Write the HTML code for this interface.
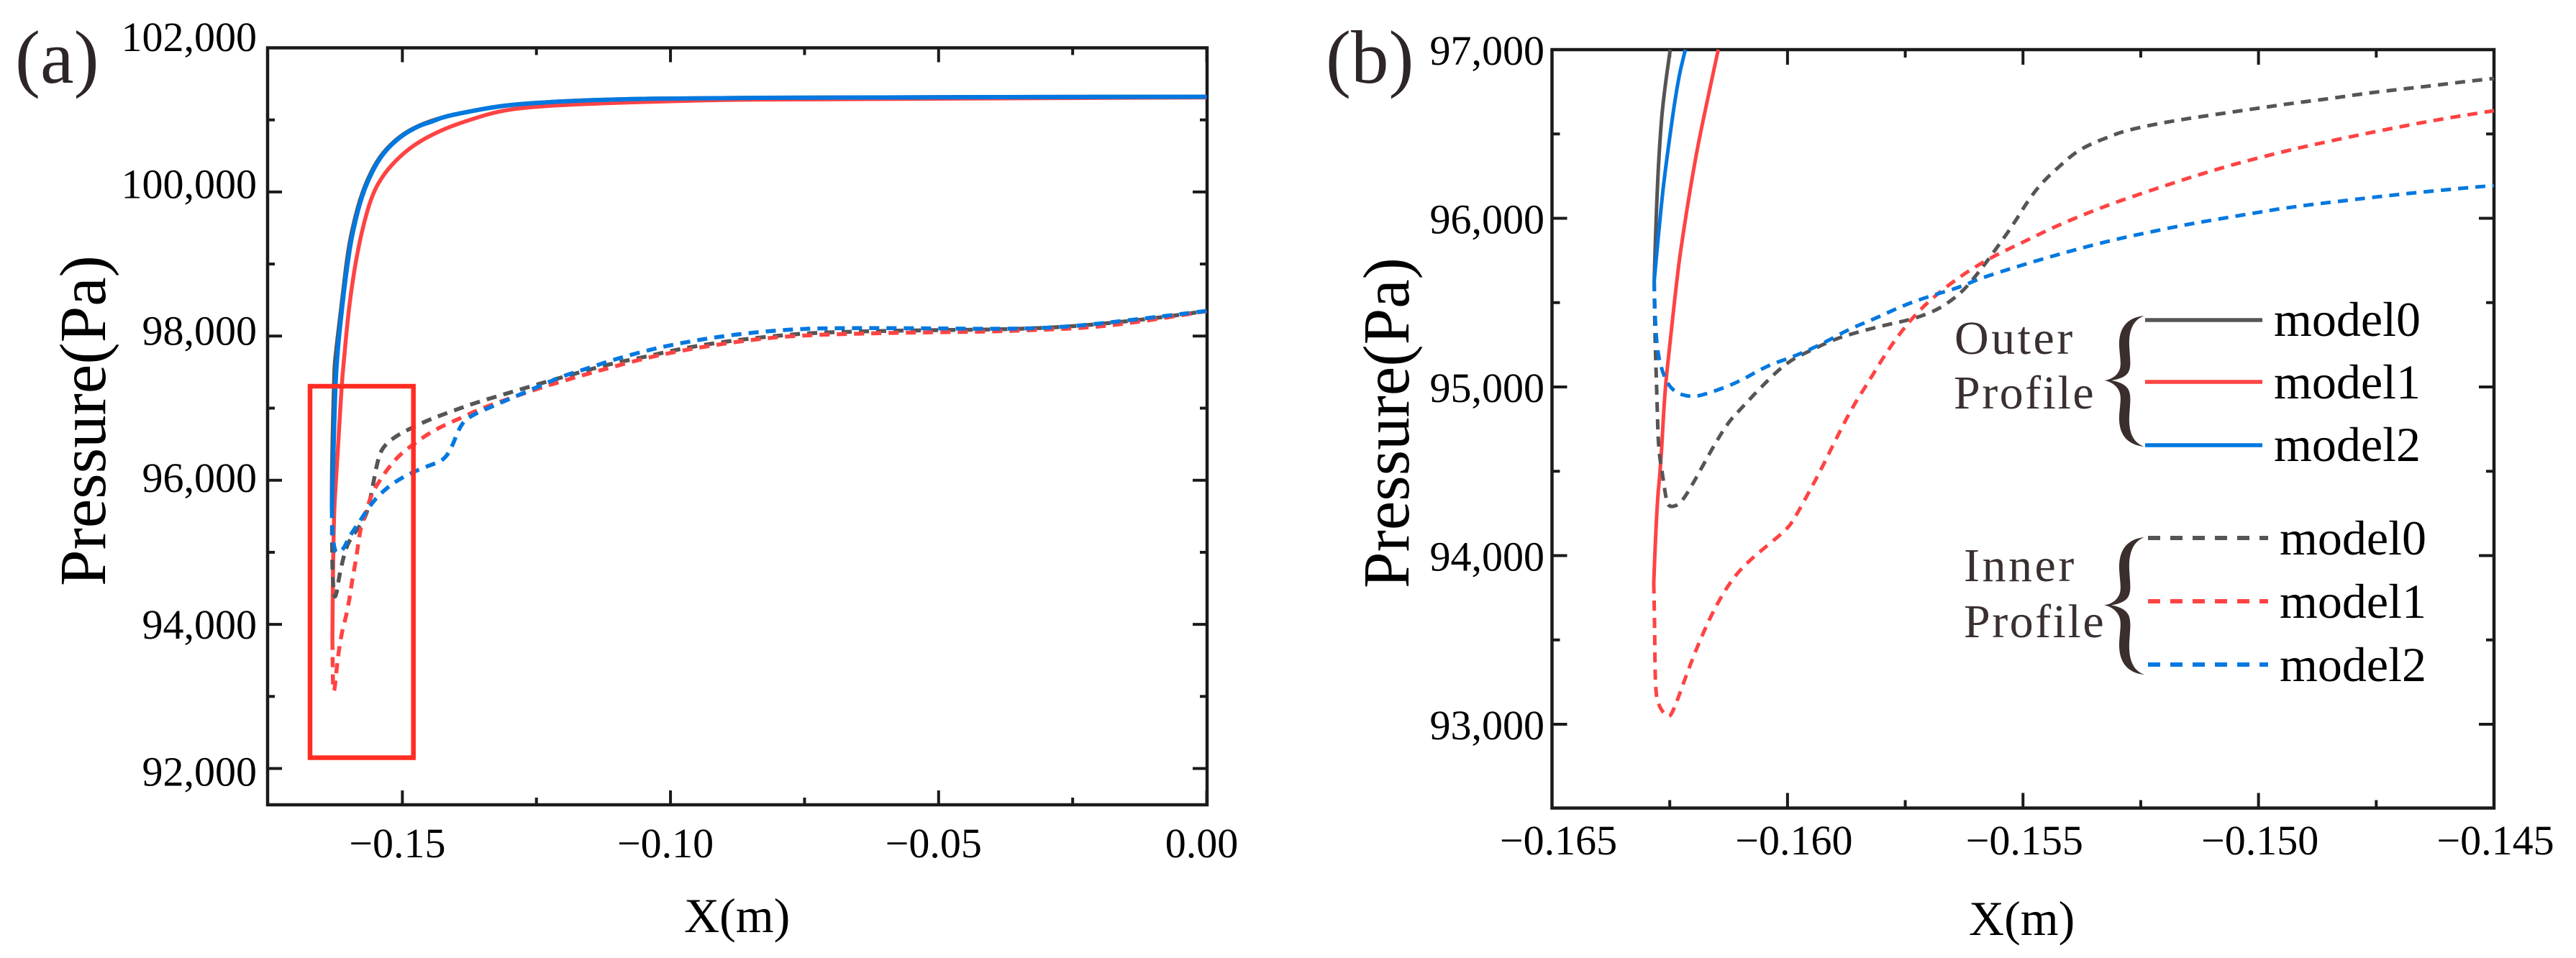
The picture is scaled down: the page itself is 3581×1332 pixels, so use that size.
<!DOCTYPE html>
<html lang="en">
<head>
<meta charset="utf-8">
<title>Pressure profiles</title>
<style>
html,body{margin:0;padding:0;background:#fff;}
#figure{display:block;width:3581px;height:1332px;font-family:"Liberation Serif",serif;}
text{font-family:"Liberation Serif",serif;}
</style>
</head>
<body>
<svg id="figure" xmlns="http://www.w3.org/2000/svg" width="3581" height="1332" viewBox="0 0 3581 1332">
  <rect x="0" y="0" width="3581" height="1332" fill="#fff"/>
  <g id="panelA"></g>
  <g id="panelB"></g>

  <text x="21" y="115" font-size="105" fill="#2e2626">(a)</text>
  <text x="1843" y="115" font-size="105" fill="#2e2626">(b)</text>

  <text transform="translate(146,815) rotate(-90)" font-size="91" fill="#000">Pressure(Pa)</text>
  <text transform="translate(1958,818) rotate(-90)" font-size="91" fill="#000">Pressure(Pa)</text>
  <text x="951" y="1296" font-size="68" fill="#000">X(m)</text>
  <text x="2737" y="1300" font-size="68" fill="#000">X(m)</text>

  <rect x="431" y="537" width="143.7" height="516.5" fill="none" stroke="#ff2d23" stroke-width="6.5"/>

  <g>
    <text x="2717" y="492" font-size="66" letter-spacing="3.5" fill="#3a3030">Outer</text>
    <text x="2716" y="568" font-size="66" letter-spacing="2.5" fill="#3a3030">Profile</text>
    <text x="2730" y="808" font-size="66" letter-spacing="3.5" fill="#3a3030">Inner</text>
    <text x="2730" y="886" font-size="66" letter-spacing="2.5" fill="#3a3030">Profile</text>

    <path transform="translate(2925,439)" fill="#3a2f2c" d="M56,0 C34,2 20,15 21,42 C22,60 25,70 20,78 C16,85 8,89 0,90 C8,91 16,96 20,103 C25,112 22,122 21,140 C20,167 34,180 56,182 C42,177 34,165 35,140 C36,122 38,112 34,103 C31,97 23,92 10,90 C23,88 31,84 34,78 C38,70 36,60 35,42 C34,18 42,5 56,0 Z"/>
    <path transform="translate(2925,747) scale(1,1.05)" fill="#3a2f2c" d="M56,0 C34,2 20,15 21,42 C22,60 25,70 20,78 C16,85 8,89 0,90 C8,91 16,96 20,103 C25,112 22,122 21,140 C20,167 34,180 56,182 C42,177 34,165 35,140 C36,122 38,112 34,103 C31,97 23,92 10,90 C23,88 31,84 34,78 C38,70 36,60 35,42 C34,18 42,5 56,0 Z"/>

    <line x1="2982" x2="3145" y1="445" y2="445" stroke="#555555" stroke-width="5.5"/>
    <line x1="2982" x2="3145" y1="531" y2="531" stroke="#ff4343" stroke-width="5.5"/>
    <line x1="2982" x2="3145" y1="619" y2="619" stroke="#0078e0" stroke-width="5.5"/>
    <text x="3161" y="467" font-size="68" fill="#000">model0</text>
    <text x="3161" y="554" font-size="68" fill="#000">model1</text>
    <text x="3161" y="641" font-size="68" fill="#000">model2</text>

    <line x1="2986" x2="3153" y1="748" y2="748" stroke="#555555" stroke-width="6" stroke-dasharray="17 14"/>
    <line x1="2986" x2="3153" y1="836" y2="836" stroke="#ff4343" stroke-width="6" stroke-dasharray="17 14"/>
    <line x1="2986" x2="3153" y1="924" y2="924" stroke="#0078e0" stroke-width="6" stroke-dasharray="17 14"/>
    <text x="3169" y="771" font-size="68" fill="#000">model0</text>
    <text x="3169" y="859" font-size="68" fill="#000">model1</text>
    <text x="3169" y="947" font-size="68" fill="#000">model2</text>
  </g>
</svg>

<script>
/* ---------- tick values and labels ---------- */
var aXMajorTicks = [-0.15, -0.10, -0.05, 0.00];
var aXMinorTicks = [-0.125, -0.075, -0.025];
var aXTickLabels = ["\u22120.15", "\u22120.10", "\u22120.05", "0.00"];
var aYMajorTicks = [102000, 100000, 98000, 96000, 94000, 92000];
var aYMinorTicks = [101000, 99000, 97000, 95000, 93000];
var aYTickLabels = ["102,000", "100,000", "98,000", "96,000", "94,000", "92,000"];

var bXMajorTicks = [-0.165, -0.160, -0.155, -0.150, -0.145];
var bXMinorTicks = [-0.1625, -0.1575, -0.1525, -0.1475];
var bXTickLabels = ["\u22120.165", "\u22120.160", "\u22120.155", "\u22120.150", "\u22120.145"];
var bYMajorTicks = [97000, 96000, 95000, 94000, 93000];
var bYMinorTicks = [96500, 95500, 94500, 93500];
var bYTickLabels = ["97,000", "96,000", "95,000", "94,000", "93,000"];

/* ---------- panel (a) series: X in m, pressure in Pa ---------- */
var aOuter0X = [-0.16313,-0.16313,-0.16268,-0.1625,-0.1610,-0.1603,-0.1595,-0.1579,-0.1559,-0.1537,-0.1505,-0.1470,-0.14232,-0.13785,-0.13114,-0.12215,-0.10872,-0.08859,-0.07745,0];
var aOuter0P = [95616,96152,97489,97700,98627,99076,99425,99904,100273,100543,100772,100922,101042,101112,101202,101251,101291,101301,101311,101321];
var aOuter1X = [-0.16305,-0.16291,-0.16223,-0.16134,-0.1609,-0.16,-0.15889,-0.15758,-0.15575,-0.15356,-0.15038,-0.14685,-0.14232,-0.13785,-0.13114,-0.12215,-0.10872,-0.08859,-0.07745,-0.03718,0];
var aOuter1P = [93786,95387,96152,97299,97679,98377,98956,99455,99944,100244,100503,100703,100872,100992,101142,101202,101242,101281,101281,101301,101311];
var aOuter2X = [-0.16313,-0.16268,-0.16228,-0.1609,-0.1601,-0.15933,-0.15776,-0.15575,-0.15356,-0.15038,-0.14685,-0.14456,-0.14232,-0.13785,-0.13114,-0.12215,-0.10872,-0.08859,-0.07745,0];
var aOuter2P = [95616,96915,97679,98627,99076,99425,99904,100273,100543,100772,100922,100972,101042,101112,101202,101251,101291,101301,101311,101321];

var aInner0X = [-0.16313,-0.16313,-0.16299,-0.16268,-0.16224,-0.16179,-0.16111,-0.16023,-0.15866,-0.15664,-0.1553,-0.15463,-0.15373,-0.15128,-0.14836,-0.14501,-0.14232,-0.13919,-0.13611,-0.1298,-0.12349,-0.11732,-0.11101,-0.1047,-0.09852,-0.09221,-0.08577,-0.0792,-0.07302,-0.05732,-0.03047,-0.01262,0];
var aInner0P = [95616,95084,94625,94355,94435,94665,94894,95124,95293,95503,96002,96265,96456,96611,96724,96840,96915,97000,97080,97220,97359,97489,97619,97712,97818,97898,97961,98011,98048,98078,98098,98218,98347];
var aInner1X = [-0.16305,-0.16299,-0.16291,-0.16268,-0.16224,-0.16179,-0.16121,-0.16044,-0.15977,-0.15933,-0.15875,-0.15821,-0.15776,-0.15687,-0.15575,-0.15419,-0.15239,-0.15038,-0.14769,-0.14501,-0.14232,-0.13919,-0.13607,-0.13024,-0.12403,-0.11772,-0.11141,-0.10497,-0.09866,-0.09248,-0.08591,-0.07973,-0.07315,-0.05732,-0.0408,-0.03047,-0.02148,-0.01262,-0.00497,0];
var aInner1P = [93786,93367,93098,93058,93401,93667,93916,94126,94395,94625,94854,95124,95349,95543,95807,96002,96192,96361,96514,96651,96760,96860,96972,97130,97289,97429,97559,97689,97788,97868,97938,97988,98018,98048,98061,98088,98118,98198,98287,98347];
var aInner2X = [-0.16313,-0.16313,-0.16268,-0.16223,-0.16111,-0.15977,-0.15799,-0.15597,-0.15419,-0.15172,-0.14859,-0.14546,-0.14232,-0.14077,-0.13942,-0.13785,-0.13208,-0.12577,-0.12,-0.11638,-0.11034,-0.10389,-0.09758,-0.09128,-0.08483,-0.07839,-0.07181,-0.05597,-0.03946,-0.03047,-0.02336,-0.01705,-0.00805,0];
var aInner2P = [95616,95313,95044,94986,95024,95234,95425,95655,95807,95962,96094,96192,96273,96456,96724,96876,97063,97263,97449,97529,97679,97811,97911,97988,98048,98088,98111,98111,98098,98111,98148,98198,98277,98350];

/* ---------- panel (b) series: X in m, pressure in Pa ---------- */
var bOuter0X = [-0.16283,-0.16278,-0.16269,-0.16261,-0.16249];
var bOuter0P = [95627,96113,96552,96761,97000];
var bOuter1X = [-0.16284,-0.16278,-0.16269,-0.16261,-0.16252,-0.16234,-0.16226,-0.16208,-0.1619,-0.16167,-0.16147];
var bOuter1P = [93836,94282,94535,94953,95200,95657,95827,96151,96437,96742,97000];
var bOuter2X = [-0.16283,-0.16269,-0.16257,-0.16234,-0.16217];
var bOuter2P = [95627,96058,96343,96800,97000];

var bInner0X = [-0.16283,-0.16282,-0.1628,-0.16277,-0.16274,-0.16265,-0.16258,-0.16252,-0.16234,-0.1622,-0.16196,-0.16161,-0.16126,-0.16097,-0.16056,-0.16003,-0.15957,-0.15898,-0.15852,-0.15793,-0.15735,-0.15682,-0.15646,-0.15621,-0.15596,-0.15576,-0.15553,-0.15531,-0.15511,-0.15492,-0.1547,-0.15446,-0.15417,-0.15389,-0.15356,-0.1532,-0.15285,-0.15214,-0.15142,-0.15068,-0.14995,-0.14923,-0.14847,-0.14775,-0.14699,-0.14628,-0.14557,-0.145];
var bInner0P = [95627,95392,95181,94915,94629,94475,94337,94288,94296,94337,94450,94629,94791,94876,95000,95143,95209,95286,95324,95367,95401,95456,95525,95588,95674,95746,95836,95921,96006,96092,96177,96249,96322,96390,96441,96480,96518,96561,96595,96625,96655,96684,96710,96740,96765,96787,96812,96829];
var bInner1X = [-0.16284,-0.16282,-0.16281,-0.16275,-0.16253,-0.1624,-0.16214,-0.16188,-0.16161,-0.16132,-0.16103,-0.16068,-0.16003,-0.15986,-0.15951,-0.15928,-0.15898,-0.15863,-0.15828,-0.15787,-0.15741,-0.15694,-0.15631,-0.15568,-0.15501,-0.15435,-0.15366,-0.15298,-0.15226,-0.15156,-0.15087,-0.15015,-0.14905,-0.1476,-0.14618,-0.145];
var bInner1P = [93836,93597,93226,93113,93030,93094,93298,93484,93652,93799,93910,94002,94151,94215,94394,94514,94686,94876,95030,95219,95392,95525,95661,95768,95857,95947,96028,96100,96168,96232,96292,96348,96424,96510,96586,96638];
var bInner2X = [-0.16283,-0.16282,-0.16277,-0.16264,-0.16243,-0.16205,-0.16167,-0.16103,-0.16045,-0.15986,-0.15928,-0.15869,-0.15811,-0.15752,-0.15694,-0.15635,-0.15591,-0.15519,-0.15447,-0.15377,-0.15305,-0.15233,-0.1516,-0.15088,-0.15015,-0.14943,-0.14832,-0.14686,-0.14537,-0.145];
var bInner2P = [95627,95466,95219,95068,94972,94937,94962,95030,95124,95181,95253,95343,95409,95486,95542,95590,95644,95708,95768,95823,95874,95917,95959,95994,96028,96062,96100,96147,96186,96194];

/* ---------- axis functions ---------- */
function aX(v){ return 373 + (v + 0.175) / 0.175 * 1304.5; }
function aY(v){ return 66.5 + (102000 - v) * 0.1002; }
function bX(v){ return 2157.5 + (v + 0.165) / 0.02 * 1309.5; }
function bY(v){ return 69 + (97000 - v) * 0.2345; }
/* the printed labels of panel (a) drift slightly from their ticks in the source image */
function aYLabelBase(v){ return 71 + (102000 - v) * 0.10215; }
function bYLabelBase(v){ return bY(v) + 21; }

var SVGNS = "http://www.w3.org/2000/svg";
var COLORS = { m0: "#555555", m1: "#ff4343", m2: "#0078e0" };

function smoothPath(xs, ys, sx, sy){
  var p = xs.map(function(x, i){ return [sx(x), sy(ys[i])]; });
  var d = "M" + p[0][0].toFixed(2) + "," + p[0][1].toFixed(2);
  for (var i = 1; i < p.length - 1; i++) {
    var mx = (p[i][0] + p[i + 1][0]) / 2, my = (p[i][1] + p[i + 1][1]) / 2;
    d += " Q" + p[i][0].toFixed(2) + "," + p[i][1].toFixed(2) + " " + mx.toFixed(2) + "," + my.toFixed(2);
  }
  var e = p[p.length - 1];
  d += " L" + e[0].toFixed(2) + "," + e[1].toFixed(2);
  return d;
}

function drawSeries(parent, name, xs, ys, sx, sy, color, width, dash){
  var el = document.createElementNS(SVGNS, "path");
  el.setAttribute("d", smoothPath(xs, ys, sx, sy));
  el.setAttribute("fill", "none");
  el.setAttribute("stroke", color);
  el.setAttribute("stroke-width", width);
  el.setAttribute("stroke-linejoin", "round");
  if (dash) el.setAttribute("stroke-dasharray", dash);
  
  
  parent.appendChild(el);
}

function drawLine(parent, name, x1, y1, x2, y2, width){
  var el = document.createElementNS(SVGNS, "line");
  el.setAttribute("x1", x1);
  el.setAttribute("y1", y1);
  el.setAttribute("x2", x2);
  el.setAttribute("y2", y2);
  el.setAttribute("stroke", "#1a1a1a");
  el.setAttribute("stroke-width", width);
  
  
  parent.appendChild(el);
}

function drawText(parent, name, str, x, y, anchor){
  var el = document.createElementNS(SVGNS, "text");
  el.setAttribute("x", x);
  el.setAttribute("y", y);
  el.setAttribute("font-size", "58");
  el.setAttribute("fill", "#000");
  el.setAttribute("text-anchor", anchor);
  el.textContent = str;
  
  
  parent.appendChild(el);
}

function drawFrame(g, left, right, top, bottom, sx, sy, xMaj, xMin, yMaj, yMin, major, minor){
  var frame = document.createElementNS(SVGNS, "rect");
  frame.setAttribute("x", left);
  frame.setAttribute("y", top);
  frame.setAttribute("width", right - left);
  frame.setAttribute("height", bottom - top);
  frame.setAttribute("fill", "none");
  frame.setAttribute("stroke", "#1a1a1a");
  frame.setAttribute("stroke-width", "4.5");
  
  
  g.appendChild(frame);
  xMaj.forEach(function(v){
    drawLine(g, "x-major-tick-bottom", sx(v), bottom, sx(v), bottom - major, 4);
    drawLine(g, "x-major-tick-top", sx(v), top, sx(v), top + major, 4);
  });
  xMin.forEach(function(v){
    drawLine(g, "x-minor-tick-bottom", sx(v), bottom, sx(v), bottom - minor, 4);
    drawLine(g, "x-minor-tick-top", sx(v), top, sx(v), top + minor, 4);
  });
  yMaj.forEach(function(v){
    drawLine(g, "y-major-tick-left", left, sy(v), left + major, sy(v), 4);
    drawLine(g, "y-major-tick-right", right, sy(v), right - major, sy(v), 4);
  });
  yMin.forEach(function(v){
    drawLine(g, "y-minor-tick-left", left, sy(v), left + minor, sy(v), 4);
    drawLine(g, "y-minor-tick-right", right, sy(v), right - minor, sy(v), 4);
  });
}

/* ---------- panel (a) ---------- */
var gA = document.getElementById("panelA");
drawFrame(gA, 372, 1678, 66.5, 1119, aX, aY, aXMajorTicks, aXMinorTicks, aYMajorTicks, aYMinorTicks, 20, 10);
aYMajorTicks.forEach(function(v, i){
  drawText(gA, "y-tick-label", aYTickLabels[i], 357, aYLabelBase(v), "end");
});
aXMajorTicks.forEach(function(v, i){
  drawText(gA, "x-tick-label", aXTickLabels[i], aX(v) - 7, 1192, "middle");
});
drawSeries(gA, "outer-model0-line", aOuter0X, aOuter0P, aX, aY, COLORS.m0, 6);
drawSeries(gA, "outer-model1-line", aOuter1X, aOuter1P, aX, aY, COLORS.m1, 5.5);
drawSeries(gA, "outer-model2-line", aOuter2X, aOuter2P, aX, aY, COLORS.m2, 6);
drawSeries(gA, "inner-model0-line", aInner0X, aInner0P, aX, aY, COLORS.m0, 5.5, "14 10");
drawSeries(gA, "inner-model1-line", aInner1X, aInner1P, aX, aY, COLORS.m1, 5.5, "14 10");
drawSeries(gA, "inner-model2-line", aInner2X, aInner2P, aX, aY, COLORS.m2, 5.5, "14 10");

/* ---------- panel (b) ---------- */
var gB = document.getElementById("panelB");
drawFrame(gB, 2157.5, 3467, 69, 1123.5, bX, bY, bXMajorTicks, bXMinorTicks, bYMajorTicks, bYMinorTicks, 21, 11);
bYMajorTicks.forEach(function(v, i){
  drawText(gB, "y-tick-label", bYTickLabels[i], 2147, bYLabelBase(v), "end");
});
bXMajorTicks.forEach(function(v, i){
  drawText(gB, "x-tick-label", bXTickLabels[i], bX(v) + (i < 2 ? 9 : 2), 1188, "middle");
});
drawSeries(gB, "outer-model0-line", bOuter0X, bOuter0P, bX, bY, COLORS.m0, 5);
drawSeries(gB, "outer-model1-line", bOuter1X, bOuter1P, bX, bY, COLORS.m1, 5);
drawSeries(gB, "outer-model2-line", bOuter2X, bOuter2P, bX, bY, COLORS.m2, 5);
drawSeries(gB, "inner-model0-line", bInner0X, bInner0P, bX, bY, COLORS.m0, 5, "14 10");
drawSeries(gB, "inner-model1-line", bInner1X, bInner1P, bX, bY, COLORS.m1, 5, "14 10");
drawSeries(gB, "inner-model2-line", bInner2X, bInner2P, bX, bY, COLORS.m2, 5, "14 10");
</script>
</body>
</html>
